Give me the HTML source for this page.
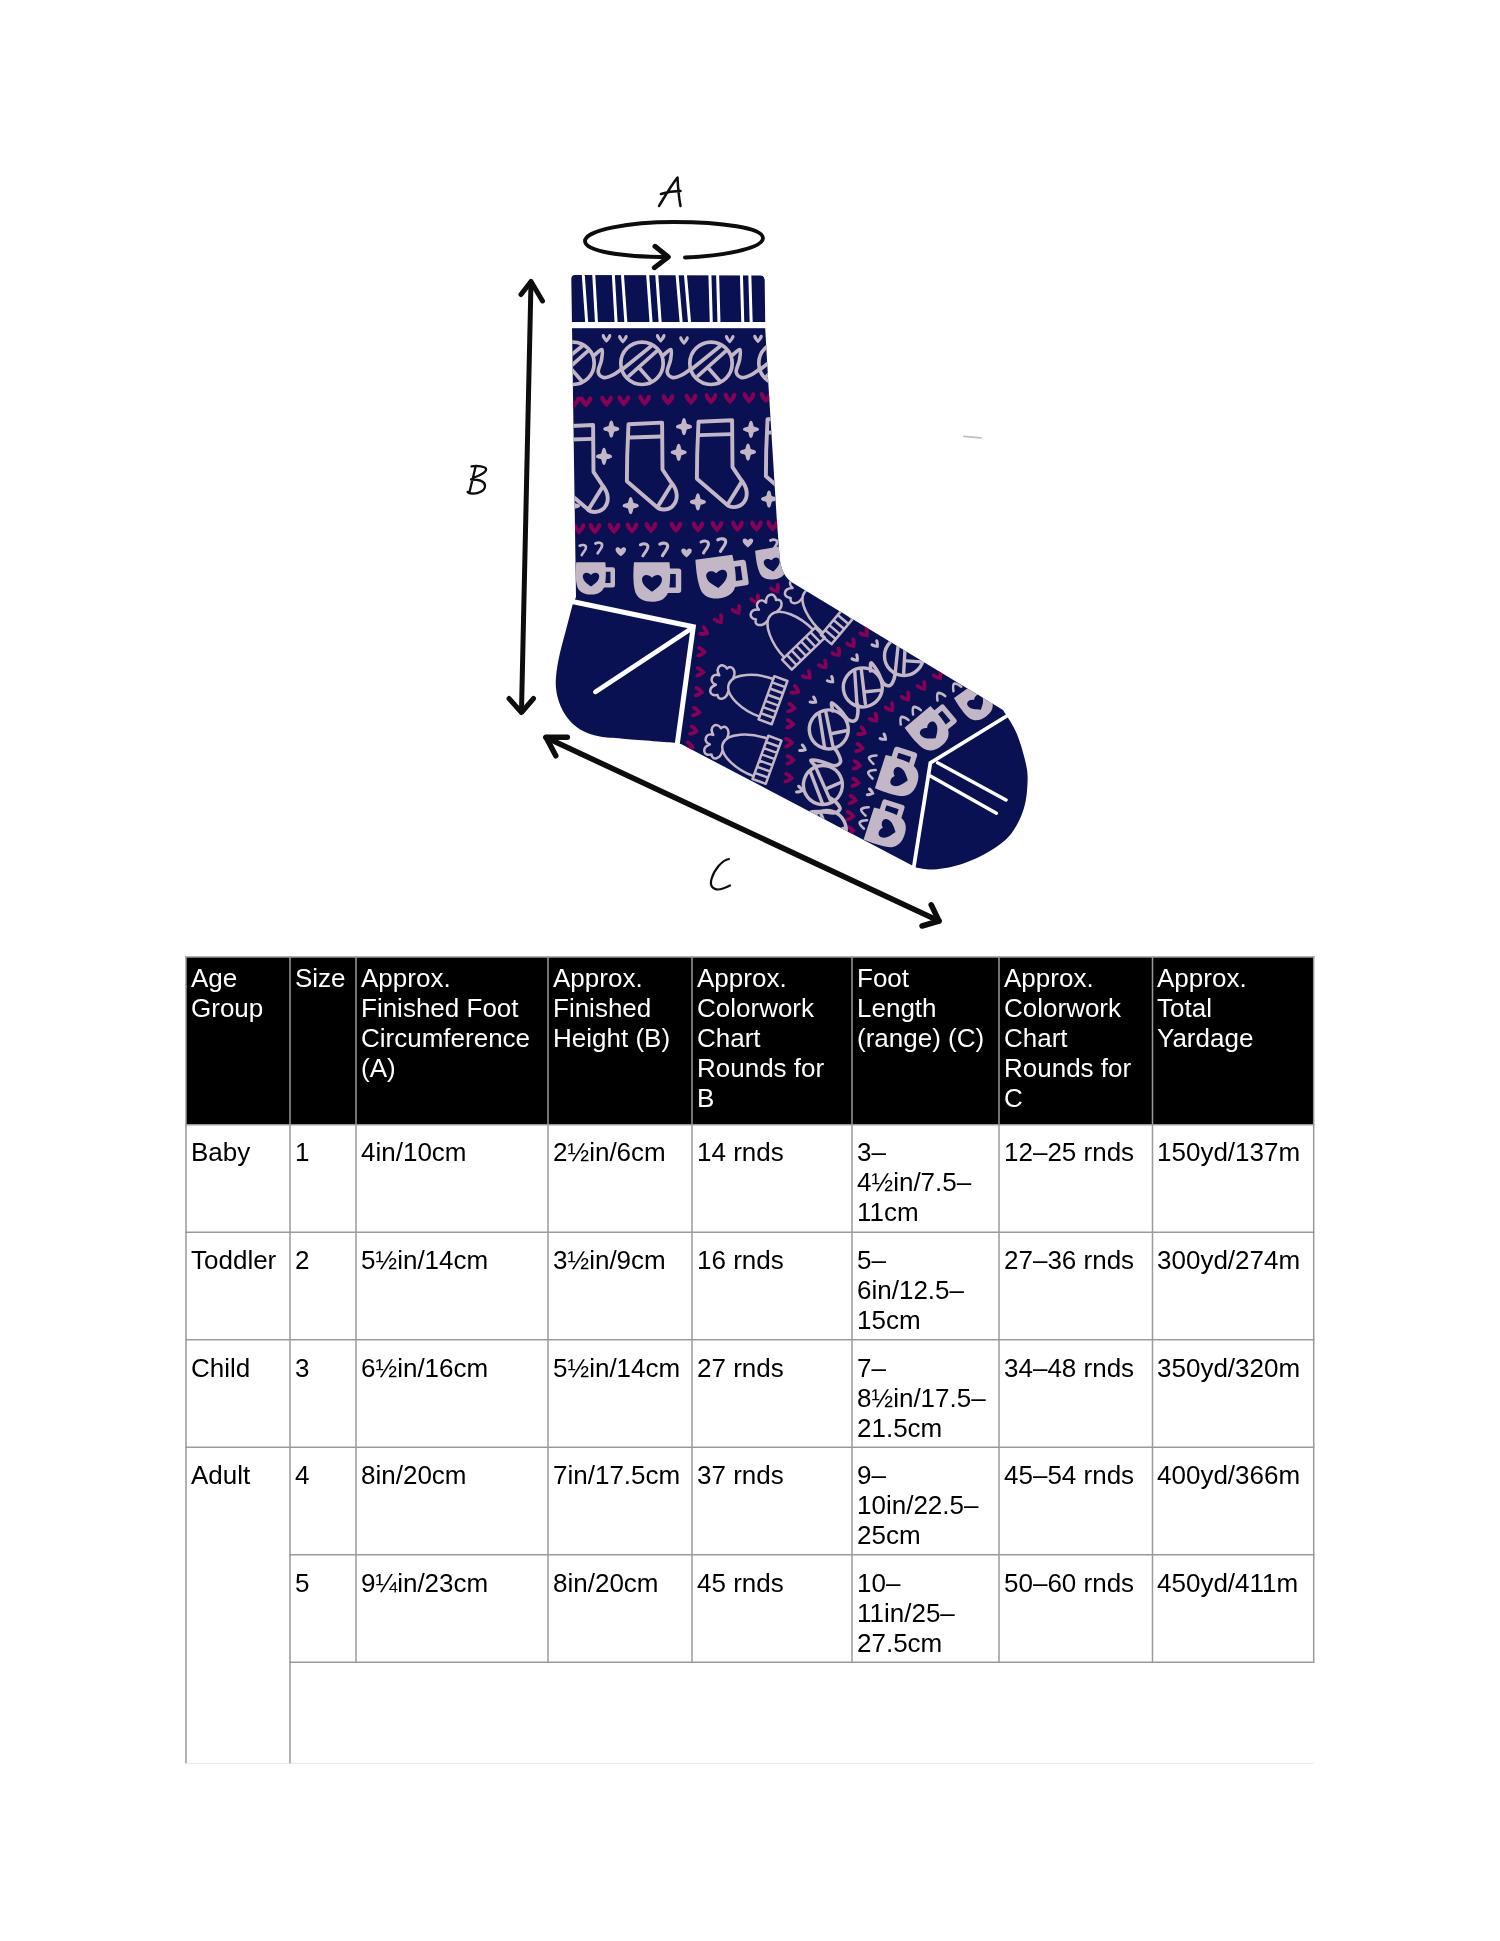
<!DOCTYPE html>
<html><head><meta charset="utf-8">
<style>
html,body{margin:0;padding:0;background:#fff;}
body{width:1500px;height:1941px;position:relative;overflow:hidden;font-family:"Liberation Sans",sans-serif;}
.t{position:absolute;will-change:transform;font-size:26px;line-height:30px;white-space:nowrap;}
svg{position:absolute;left:0;top:0;}
</style></head><body>
<svg width="1500" height="1941" viewBox="0 0 1500 1941">
<rect x="186" y="957" width="1127.1000000000001" height="167.10000000000014" fill="#000"/>
<line x1="185.25" y1="957" x2="1314.45" y2="957" stroke="#9a9a9a" stroke-width="1.5"/>
<line x1="185.25" y1="1124.7" x2="1314.45" y2="1124.7" stroke="#9a9a9a" stroke-width="1.5"/>
<line x1="185.25" y1="1232.3" x2="1314.45" y2="1232.3" stroke="#9a9a9a" stroke-width="1.5"/>
<line x1="185.25" y1="1339.8" x2="1314.45" y2="1339.8" stroke="#9a9a9a" stroke-width="1.5"/>
<line x1="185.25" y1="1447.3" x2="1314.45" y2="1447.3" stroke="#9a9a9a" stroke-width="1.5"/>
<line x1="289.25" y1="1554.8" x2="1314.45" y2="1554.8" stroke="#9a9a9a" stroke-width="1.5"/>
<line x1="289.25" y1="1662.3" x2="1314.45" y2="1662.3" stroke="#9a9a9a" stroke-width="1.5"/>
<line x1="186" y1="1763.3" x2="1313.7" y2="1763.3" stroke="#e6e6e6" stroke-width="1"/>
<line x1="186" y1="956.25" x2="186" y2="1763.3" stroke="#9a9a9a" stroke-width="1.5"/>
<line x1="290" y1="956.25" x2="290" y2="1763.3" stroke="#9a9a9a" stroke-width="1.5"/>
<line x1="356" y1="956.25" x2="356" y2="1662.3" stroke="#9a9a9a" stroke-width="1.5"/>
<line x1="548" y1="956.25" x2="548" y2="1662.3" stroke="#9a9a9a" stroke-width="1.5"/>
<line x1="692" y1="956.25" x2="692" y2="1662.3" stroke="#9a9a9a" stroke-width="1.5"/>
<line x1="852" y1="956.25" x2="852" y2="1662.3" stroke="#9a9a9a" stroke-width="1.5"/>
<line x1="999" y1="956.25" x2="999" y2="1662.3" stroke="#9a9a9a" stroke-width="1.5"/>
<line x1="1152.5" y1="956.25" x2="1152.5" y2="1662.3" stroke="#9a9a9a" stroke-width="1.5"/>
<line x1="1313.7" y1="956.25" x2="1313.7" y2="1662.3" stroke="#9a9a9a" stroke-width="1.5"/>
<defs><clipPath id="sockclip"><path d="M571.3,279 Q571.3,275 575,275 L760.5,275.5 Q764.5,275.8 764.7,280 L765.3,330.0 768.5,386.0 772.6,452.0 776.7,518.0 779.5,556.0 Q781,576 793,583 L1003,710 C1005.2,713.7 1012.3,723.7 1016.0,732.0 C1019.7,740.3 1023.1,752.0 1025.0,760.0 C1026.9,768.0 1027.8,772.0 1027.6,780.0 C1027.4,788.0 1026.8,799.0 1024.0,808.0 C1021.2,817.0 1016.7,826.8 1011.0,834.0 C1005.3,841.2 998.2,846.0 990.0,851.0 C981.8,856.0 971.3,860.9 962.0,864.0 C952.7,867.1 941.7,868.9 934.0,869.5 C926.3,870.1 919.0,867.8 916.0,867.5 L681,744 L674,742.7 C665.5,742.0 635.3,739.7 623.0,738.7 C610.7,737.7 606.7,737.8 600.0,736.5 C593.3,735.2 588.0,733.6 583.0,731.0 C578.0,728.4 573.7,725.0 570.0,721.0 C566.3,717.0 563.2,711.8 561.0,707.0 C558.8,702.2 557.3,697.0 556.5,692.0 C555.7,687.0 555.5,683.2 556.0,677.0 C556.5,670.8 557.8,662.8 559.5,655.0 C561.2,647.2 563.8,638.3 566.0,630.0 C568.2,621.7 571.4,609.2 572.5,605.0 L576,597 Z"/></clipPath>
<path id="hl" d="M0,5.5 C-3.5,3 -6.8,0 -6.6,-3 C-6.4,-6 -2.6,-6.8 0,-3.2 C2.6,-6.8 6.4,-6 6.6,-3 C6.8,0 3.5,3 0,5.5 Z"/>
<path id="hm" d="M0,6 C-3.5,3 -7,-1.5 -6.6,-4.2 C-6.2,-6.6 -3.2,-6.6 -2.4,-4.4 L0,0.2 L2.4,-4.4 C3.2,-6.6 6.2,-6.6 6.6,-4.2 C7,-1.5 3.5,3 0,6 Z"/>
<g id="ball" fill="none" stroke="#c3b7c5" stroke-width="3.7" stroke-linecap="round"><circle r="21.2"/><path d="M-19.5,6 L9,-17 M-13,12.5 L15,-12.5 M-2,5.5 L9,18"/></g>
<path id="spark" fill="#c3b7c5" d="M-8,0 C-8,-1.9 -4.5,-2.1 -2.8,-2.9 C-2.1,-4.5 -1.9,-8.6 0,-8.6 C1.9,-8.6 2.1,-4.5 2.8,-2.9 C4.5,-2.1 8,-1.9 8,0 C8,1.9 4.5,2.1 2.8,2.9 C2.1,4.5 1.9,8.6 0,8.6 C-1.9,8.6 -2.1,4.5 -2.8,2.9 C-4.5,2.1 -8,1.9 -8,0 Z"/>
<g id="mug"><path fill="#c3b7c5" d="M-18,-19.5 L17.5,-19.5 C18.5,-8 18.5,4 16,11 C13,18 7,20 0,20 C-8,20 -14,17 -16.5,11 C-19,4 -19,-8 -18,-19.5 Z"/><path fill="none" stroke="#c3b7c5" stroke-width="5.5" stroke-linejoin="round" d="M15,-10.5 L26.5,-10.5 L26.5,8.5 L14,8.5"/><path fill="#091152" d="M0,10 C-5,6.5 -10,3 -10,-2.5 C-10,-7 -4,-8.5 0,-4 C4,-8.5 10,-7 10,-2.5 C10,3 5,6.5 0,10 Z"/></g>
<g id="smotif" fill="none" stroke="#c3b7c5" stroke-width="3.9" stroke-linejoin="round" stroke-linecap="round"><path d="M8.5,8 L42.1,6.4 L42.5,53.3 L50.7,65.6 C58,74 59,84 52,90.5 C47,94.5 40,94 36.8,90.7 L6.9,65 L7.2,40 Z"/><path d="M9.6,21.3 L41.6,20.3 M51.5,68.3 L37.3,91.2"/></g>
<g id="hat" fill="none" stroke="#c3b7c5" stroke-width="2.5" stroke-linejoin="round" stroke-linecap="round"><path d="M-20,10 C-20,-8 -12,-30 0,-30 C12,-30 20,-8 20,10"/><path d="M-23,10 L23,10 L23,24 L-23,24 Z M-16.4,10 L-16.4,24 M-9.9,10 L-9.9,24 M-3.3,10 L-3.3,24 M3.3,10 L3.3,24 M9.9,10 L9.9,24 M16.4,10 L16.4,24"/><path d="M-7,-28 C-15,-27 -20,-34 -14,-37 C-19,-44 -11,-49 -5,-42 C-5,-50 5,-50 5,-42 C11,-49 19,-44 14,-37 C20,-34 15,-27 7,-28"/></g>
<path id="steam" fill="none" stroke="#c3b7c5" stroke-width="3" stroke-linecap="round" d="M-4,-5 C-1,-6.5 3.5,-6.5 3.5,-3 C3.5,0 0,3 -1.5,6"/>
<path id="caret" fill="none" stroke="#c3b7c5" stroke-width="2.8" stroke-linecap="round" stroke-linejoin="round" d="M-5,3 C-3,-2 -1,-4 0,-4 C2,-3 4,0 5,3"/>
</defs>
<path d="M571.3,279 Q571.3,275 575,275 L760.5,275.5 Q764.5,275.8 764.7,280 L765.3,330.0 768.5,386.0 772.6,452.0 776.7,518.0 779.5,556.0 Q781,576 793,583 L1003,710 C1005.2,713.7 1012.3,723.7 1016.0,732.0 C1019.7,740.3 1023.1,752.0 1025.0,760.0 C1026.9,768.0 1027.8,772.0 1027.6,780.0 C1027.4,788.0 1026.8,799.0 1024.0,808.0 C1021.2,817.0 1016.7,826.8 1011.0,834.0 C1005.3,841.2 998.2,846.0 990.0,851.0 C981.8,856.0 971.3,860.9 962.0,864.0 C952.7,867.1 941.7,868.9 934.0,869.5 C926.3,870.1 919.0,867.8 916.0,867.5 L681,744 L674,742.7 C665.5,742.0 635.3,739.7 623.0,738.7 C610.7,737.7 606.7,737.8 600.0,736.5 C593.3,735.2 588.0,733.6 583.0,731.0 C578.0,728.4 573.7,725.0 570.0,721.0 C566.3,717.0 563.2,711.8 561.0,707.0 C558.8,702.2 557.3,697.0 556.5,692.0 C555.7,687.0 555.5,683.2 556.0,677.0 C556.5,670.8 557.8,662.8 559.5,655.0 C561.2,647.2 563.8,638.3 566.0,630.0 C568.2,621.7 571.4,609.2 572.5,605.0 L576,597 Z" fill="#091152"/>
<g clip-path="url(#sockclip)">
<use href="#hm" transform="translate(606.5,338.4) scale(0.72)" fill="#c3b7c5"/>
<use href="#hm" transform="translate(622.9,339.3) scale(0.72)" fill="#c3b7c5"/>
<use href="#hm" transform="translate(660.7,338.4) scale(0.72)" fill="#c3b7c5"/>
<use href="#hm" transform="translate(684.0,340.7) scale(0.72)" fill="#c3b7c5"/>
<use href="#hm" transform="translate(729.7,339.3) scale(0.72)" fill="#c3b7c5"/>
<use href="#hm" transform="translate(758.0,339.0) scale(0.72)" fill="#c3b7c5"/>
<use href="#ball" transform="translate(573.0,363.3)"/>
<use href="#ball" transform="translate(642.0,363.3)"/>
<use href="#ball" transform="translate(711.0,363.3)"/>
<use href="#ball" transform="translate(780.0,363.3)"/>
<path fill="none" stroke="#c3b7c5" stroke-width="3.7" stroke-linecap="round" d="M594.5,355.2 C595.7,354.2 600.7,348.7 601.9,349.5 C603.1,350.3 602.1,356.2 601.5,360.0 C600.9,363.8 597.8,369.1 598.2,372.0 C598.6,374.9 601.3,377.1 603.8,377.6 C606.3,378.1 610.2,376.2 613.1,374.8 C616.0,373.4 619.7,370.4 621.0,369.5"/>
<path fill="none" stroke="#c3b7c5" stroke-width="3.7" stroke-linecap="round" d="M663.5,355.2 C664.7,354.2 669.7,348.7 670.9,349.5 C672.1,350.3 671.1,356.2 670.5,360.0 C669.9,363.8 666.8,369.1 667.2,372.0 C667.6,374.9 670.3,377.1 672.8,377.6 C675.3,378.1 679.2,376.2 682.1,374.8 C685.0,373.4 688.7,370.4 690.0,369.5"/>
<path fill="none" stroke="#c3b7c5" stroke-width="3.7" stroke-linecap="round" d="M732.5,355.2 C733.7,354.2 738.7,348.7 739.9,349.5 C741.1,350.3 740.1,356.2 739.5,360.0 C738.9,363.8 735.8,369.1 736.2,372.0 C736.6,374.9 739.3,377.1 741.8,377.6 C744.3,378.1 748.2,376.2 751.1,374.8 C754.0,373.4 757.7,370.4 759.0,369.5"/>
<use href="#hm" transform="translate(574.0,402.2) scale(0.95)" fill="#880056"/>
<use href="#hm" transform="translate(586.0,401.9) scale(0.95)" fill="#880056"/>
<use href="#hm" transform="translate(606.6,401.4) scale(0.95)" fill="#880056"/>
<use href="#hm" transform="translate(623.8,401.0) scale(0.95)" fill="#880056"/>
<use href="#hm" transform="translate(644.6,400.5) scale(0.95)" fill="#880056"/>
<use href="#hm" transform="translate(668.0,399.9) scale(0.95)" fill="#880056"/>
<use href="#hm" transform="translate(691.0,399.4) scale(0.95)" fill="#880056"/>
<use href="#hm" transform="translate(711.0,398.9) scale(0.95)" fill="#880056"/>
<use href="#hm" transform="translate(730.0,398.5) scale(0.95)" fill="#880056"/>
<use href="#hm" transform="translate(749.0,398.0) scale(0.95)" fill="#880056"/>
<use href="#hm" transform="translate(766.0,397.6) scale(0.95)" fill="#880056"/>
<use href="#smotif" transform="translate(551.0,418.6)"/>
<use href="#smotif" transform="translate(620.0,416.2)"/>
<use href="#smotif" transform="translate(690.0,413.8)"/>
<use href="#smotif" transform="translate(759.0,411.3)"/>
<use href="#spark" transform="translate(611.3,429.0)"/>
<use href="#spark" transform="translate(604.0,456.4)"/>
<use href="#spark" transform="translate(630.7,505.7)"/>
<use href="#spark" transform="translate(684.0,426.7)"/>
<use href="#spark" transform="translate(678.7,452.3)"/>
<use href="#spark" transform="translate(697.9,501.9)"/>
<use href="#spark" transform="translate(751.0,429.3)"/>
<use href="#spark" transform="translate(748.0,452.0)"/>
<use href="#spark" transform="translate(769.0,499.0)"/>
<use href="#spark" transform="translate(572.0,506.0)"/>
<use href="#hm" transform="translate(579.0,529.0) scale(0.95)" fill="#880056"/>
<use href="#hm" transform="translate(595.0,528.7) scale(0.95)" fill="#880056"/>
<use href="#hm" transform="translate(614.0,528.4) scale(0.95)" fill="#880056"/>
<use href="#hm" transform="translate(632.0,528.2) scale(0.95)" fill="#880056"/>
<use href="#hm" transform="translate(651.0,527.8) scale(0.95)" fill="#880056"/>
<use href="#hm" transform="translate(676.0,527.4) scale(0.95)" fill="#880056"/>
<use href="#hm" transform="translate(698.0,527.1) scale(0.95)" fill="#880056"/>
<use href="#hm" transform="translate(717.0,526.8) scale(0.95)" fill="#880056"/>
<use href="#hm" transform="translate(737.5,526.5) scale(0.95)" fill="#880056"/>
<use href="#hm" transform="translate(756.5,526.2) scale(0.95)" fill="#880056"/>
<use href="#hm" transform="translate(772.7,525.9) scale(0.95)" fill="#880056"/>
<use href="#steam" transform="translate(583.0,550.0) scale(0.85)"/>
<use href="#steam" transform="translate(599.0,548.0) scale(0.9)"/>
<use href="#steam" transform="translate(644.4,549.8)"/>
<use href="#steam" transform="translate(664.0,549.4) scale(1.05)"/>
<use href="#steam" transform="translate(705.0,547.0)"/>
<use href="#steam" transform="translate(722.0,545.0) scale(1.05)"/>
<use href="#steam" transform="translate(774.0,545.0) scale(0.9)"/>
<use href="#hl" transform="translate(620.8,551.8) scale(0.8)" fill="#c3b7c5"/>
<use href="#hl" transform="translate(686.5,553.0) scale(0.8)" fill="#c3b7c5"/>
<use href="#hl" transform="translate(747.9,543.0) scale(0.8)" fill="#c3b7c5"/>
<use href="#mug" transform="translate(591.0,578.2) scale(0.82)"/>
<use href="#mug" transform="translate(652.0,581.8)"/>
<use href="#mug" transform="translate(717.0,577.5) rotate(-8.0) scale(1.05)"/>
<use href="#mug" transform="translate(772.0,563.5) rotate(-10.0) scale(0.8)"/>
<use href="#hm" transform="translate(796.0,578.0) rotate(-29.5) scale(0.85)" fill="#880056"/>
<use href="#hm" transform="translate(776.0,589.3) rotate(-28.8) scale(0.85)" fill="#880056"/>
<use href="#hm" transform="translate(756.0,600.0) rotate(-28.9) scale(0.85)" fill="#880056"/>
<use href="#hm" transform="translate(737.3,610.7) rotate(-28.7) scale(0.85)" fill="#880056"/>
<use href="#hm" transform="translate(719.5,620.0) rotate(-33.2) scale(0.85)" fill="#880056"/>
<use href="#hm" transform="translate(704.7,632.0) rotate(-61.3) scale(0.85)" fill="#880056"/>
<use href="#hm" transform="translate(702.0,652.0) rotate(-84.3) scale(0.85)" fill="#880056"/>
<use href="#hm" transform="translate(700.7,672.0) rotate(-86.1) scale(0.85)" fill="#880056"/>
<use href="#hm" transform="translate(699.3,692.0) rotate(-84.3) scale(0.85)" fill="#880056"/>
<use href="#hm" transform="translate(696.7,712.0) rotate(-82.2) scale(0.85)" fill="#880056"/>
<use href="#hm" transform="translate(694.0,730.7) rotate(-79.1) scale(0.85)" fill="#880056"/>
<use href="#hm" transform="translate(690.0,746.7) rotate(-76.0) scale(0.85)" fill="#880056"/>
<use href="#hm" transform="translate(880.0,622.0) rotate(-37.5) scale(0.85)" fill="#880056"/>
<use href="#hm" transform="translate(865.3,633.3) rotate(-38.2) scale(0.85)" fill="#880056"/>
<use href="#hm" transform="translate(852.0,644.0) rotate(-35.5) scale(0.85)" fill="#880056"/>
<use href="#hm" transform="translate(837.3,653.3) rotate(-37.3) scale(0.85)" fill="#880056"/>
<use href="#hm" transform="translate(824.0,665.3) rotate(-37.8) scale(0.85)" fill="#880056"/>
<use href="#hm" transform="translate(808.0,676.0) rotate(-42.2) scale(0.85)" fill="#880056"/>
<use href="#hm" transform="translate(796.0,690.7) rotate(-63.4) scale(0.85)" fill="#880056"/>
<use href="#hm" transform="translate(792.0,708.0) rotate(-81.0) scale(0.85)" fill="#880056"/>
<use href="#hm" transform="translate(790.7,724.0) rotate(-85.6) scale(0.85)" fill="#880056"/>
<use href="#hm" transform="translate(789.3,742.7) rotate(-90.0) scale(0.85)" fill="#880056"/>
<use href="#hm" transform="translate(790.7,760.0) rotate(-89.5) scale(0.85)" fill="#880056"/>
<use href="#hm" transform="translate(789.0,778.0) rotate(-84.6) scale(0.85)" fill="#880056"/>
<use href="#hm" transform="translate(954.0,666.0) rotate(-33.2) scale(0.85)" fill="#880056"/>
<use href="#hm" transform="translate(938.7,676.0) rotate(-33.5) scale(0.85)" fill="#880056"/>
<use href="#hm" transform="translate(922.7,686.7) rotate(-33.6) scale(0.85)" fill="#880056"/>
<use href="#hm" transform="translate(906.7,697.3) rotate(-33.6) scale(0.85)" fill="#880056"/>
<use href="#hm" transform="translate(890.7,708.0) rotate(-33.8) scale(0.85)" fill="#880056"/>
<use href="#hm" transform="translate(874.7,718.7) rotate(-40.6) scale(0.85)" fill="#880056"/>
<use href="#hm" transform="translate(862.7,732.0) rotate(-63.4) scale(0.85)" fill="#880056"/>
<use href="#hm" transform="translate(860.0,748.0) rotate(-80.8) scale(0.85)" fill="#880056"/>
<use href="#hm" transform="translate(857.3,765.3) rotate(-83.4) scale(0.85)" fill="#880056"/>
<use href="#hm" transform="translate(856.0,782.7) rotate(-83.4) scale(0.85)" fill="#880056"/>
<use href="#hm" transform="translate(853.3,800.0) rotate(-81.0) scale(0.85)" fill="#880056"/>
<use href="#hm" transform="translate(850.7,816.0) rotate(-85.2) scale(0.85)" fill="#880056"/>
<use href="#hm" transform="translate(850.7,830.7) rotate(-90.0) scale(0.85)" fill="#880056"/>
<use href="#hat" transform="translate(841.0,622.0) rotate(-50.0) translate(0,-17)"/>
<use href="#hat" transform="translate(803.5,648.6) rotate(-44.0) translate(0,-17)"/>
<use href="#hat" transform="translate(773.0,700.2) rotate(-70.0) translate(0,-17)"/>
<use href="#hat" transform="translate(767.0,759.8) rotate(-70.0) translate(0,-17)"/>
<use href="#ball" transform="translate(826.7,830.0) rotate(-70.0) scale(0.92)"/>
<use href="#ball" transform="translate(822.9,785.0) rotate(-72.0) scale(0.92)"/>
<use href="#ball" transform="translate(828.8,729.4) rotate(-60.0) scale(0.92)"/>
<use href="#ball" transform="translate(862.8,687.4) rotate(-55.0) scale(0.92)"/>
<use href="#ball" transform="translate(904.0,656.0) rotate(-45.0) scale(0.92)"/>
<path fill="none" stroke="#c3b7c5" stroke-width="3.6" stroke-linecap="round" d="M817.0,816.7 C816.0,816.0 809.9,813.2 810.7,812.4 C811.4,811.5 817.7,811.6 821.7,811.7 C825.6,811.8 831.4,813.3 834.4,812.8 C837.5,812.3 839.6,810.3 840.0,808.6 C840.3,807.0 838.1,804.6 836.5,802.8 C835.0,801.1 831.5,798.9 830.5,798.1"/>
<path fill="none" stroke="#c3b7c5" stroke-width="3.6" stroke-linecap="round" d="M816.3,766.8 C815.4,765.7 810.0,761.0 811.0,760.2 C811.9,759.3 818.0,760.8 821.9,761.7 C825.8,762.6 831.0,765.6 834.1,765.7 C837.2,765.7 839.8,763.7 840.5,761.8 C841.2,759.8 839.5,756.4 838.3,754.0 C837.2,751.5 834.3,748.2 833.5,747.0"/>
<path fill="none" stroke="#c3b7c5" stroke-width="3.6" stroke-linecap="round" d="M832.8,711.0 C832.6,709.6 830.6,702.9 831.8,702.7 C833.0,702.5 837.4,707.0 840.2,709.9 C842.9,712.7 845.7,718.1 848.3,719.8 C850.9,721.5 854.0,721.3 855.6,720.1 C857.3,718.9 857.6,715.2 857.9,712.6 C858.3,710.0 857.6,705.7 857.5,704.3"/>
<path fill="none" stroke="#c3b7c5" stroke-width="3.6" stroke-linecap="round" d="M870.5,670.9 C870.6,669.5 870.1,662.6 871.3,662.7 C872.5,662.9 875.7,668.3 877.7,671.7 C879.7,675.1 881.3,680.9 883.4,683.2 C885.5,685.5 888.5,686.1 890.3,685.3 C892.1,684.6 893.2,681.2 894.1,678.8 C894.9,676.3 895.2,672.1 895.4,670.7"/>
<use href="#mug" transform="translate(929.6,730.9) rotate(-40.0) scale(0.95)"/>
<use href="#mug" transform="translate(898.5,777.3) rotate(-72.0) scale(0.98)"/>
<use href="#mug" transform="translate(886.5,829.0) rotate(-72.0) scale(0.95)"/>
<use href="#mug" transform="translate(976.0,702.7) rotate(-35.0) scale(0.85)"/>
<use href="#caret" transform="translate(915.6,710.0) rotate(-30.0) scale(0.9)"/>
<use href="#caret" transform="translate(903.3,720.0) rotate(-30.0) scale(0.9)"/>
<use href="#caret" transform="translate(872.4,758.7) rotate(-70.0) scale(0.9)"/>
<use href="#caret" transform="translate(871.6,773.4) rotate(-70.0) scale(0.9)"/>
<use href="#caret" transform="translate(864.6,810.5) rotate(-70.0) scale(0.9)"/>
<use href="#caret" transform="translate(863.0,823.6) rotate(-70.0) scale(0.9)"/>
<use href="#caret" transform="translate(956.0,686.7) rotate(-30.0) scale(0.9)"/>
<use href="#caret" transform="translate(940.0,696.0) rotate(-30.0) scale(0.9)"/>
<use href="#hm" transform="translate(884.0,737.9) rotate(-50.0) scale(0.68)" fill="#c3b7c5"/>
<use href="#hm" transform="translate(870.8,792.7) rotate(-70.0) scale(0.68)" fill="#c3b7c5"/>
<use href="#hm" transform="translate(800.0,790.0) rotate(-70.0) scale(0.68)" fill="#c3b7c5"/>
<use href="#hm" transform="translate(876.0,644.7) rotate(-40.0) scale(0.68)" fill="#c3b7c5"/>
<use href="#hm" transform="translate(856.0,658.7) rotate(-40.0) scale(0.68)" fill="#c3b7c5"/>
<use href="#hm" transform="translate(831.3,680.4) rotate(-45.0) scale(0.68)" fill="#c3b7c5"/>
<use href="#hm" transform="translate(814.0,701.0) rotate(-55.0) scale(0.68)" fill="#c3b7c5"/>
<use href="#hm" transform="translate(803.3,748.8) rotate(-65.0) scale(0.68)" fill="#c3b7c5"/>
</g>
<rect x="565" y="322" width="215" height="6.2" fill="#ffffff"/>
<line x1="583.2" y1="274" x2="586.7" y2="323" stroke="#ffffff" stroke-width="3"/>
<line x1="593.7" y1="274" x2="596.5" y2="323" stroke="#ffffff" stroke-width="3"/>
<line x1="613.3" y1="274" x2="616.1" y2="323" stroke="#ffffff" stroke-width="3"/>
<line x1="622.4" y1="274" x2="625.9" y2="323" stroke="#ffffff" stroke-width="3"/>
<line x1="647.6" y1="274" x2="651.1" y2="323" stroke="#ffffff" stroke-width="3"/>
<line x1="656.7" y1="274" x2="660.2" y2="323" stroke="#ffffff" stroke-width="3"/>
<line x1="677.0" y1="274" x2="681.2" y2="323" stroke="#ffffff" stroke-width="3"/>
<line x1="685.4" y1="274" x2="689.6" y2="323" stroke="#ffffff" stroke-width="3"/>
<line x1="709.9" y1="274" x2="711.3" y2="323" stroke="#ffffff" stroke-width="3"/>
<line x1="717.6" y1="274" x2="719.0" y2="323" stroke="#ffffff" stroke-width="3"/>
<line x1="741.4" y1="274" x2="742.8" y2="323" stroke="#ffffff" stroke-width="3"/>
<line x1="749.8" y1="274" x2="751.2" y2="323" stroke="#ffffff" stroke-width="3"/>
<path d="M560,599 L693.3,626.7 L677,746" fill="none" stroke="#ffffff" stroke-width="5" stroke-linejoin="miter"/>
<line x1="595.3" y1="692" x2="693" y2="627.5" stroke="#ffffff" stroke-width="4.5" stroke-linecap="round"/>
<path d="M1010,714 L930.4,762.8 L913,872" fill="none" stroke="#ffffff" stroke-width="3.8"/>
<line x1="937.6" y1="762.8" x2="1006" y2="800" stroke="#ffffff" stroke-width="3.5" stroke-linecap="round"/>
<line x1="930.4" y1="776" x2="996.4" y2="813.2" stroke="#ffffff" stroke-width="3.5" stroke-linecap="round"/>
<path d="M668,257 C620,257 585,251 585,241 C585,230 630,222 674,222 C722,222 763,228 763,238 C763,249 720,256 685,257.5" fill="none" stroke="#0d0d0d" stroke-width="3.9" stroke-linecap="round"/>
<path d="M655,246.3 L668.3,257 L654.3,267.7" fill="none" stroke="#0d0d0d" stroke-width="5" stroke-linecap="round" stroke-linejoin="round"/>
<path d="M659,206 C664,198 670,187 677.5,177.5 C678,188 679,198 680.5,206 M661,194 C667,192 674,191 680.5,191" fill="none" stroke="#0d0d0d" stroke-width="2.5" stroke-linecap="round" stroke-linejoin="round"/>
<path d="M531,282 C528,420 524,560 521.5,711" fill="none" stroke="#0d0d0d" stroke-width="5" stroke-linecap="round"/>
<path d="M521,294.5 L531,281.5 L542.5,301 M509,698.5 L521.5,712.5 L533.5,698.5" fill="none" stroke="#0d0d0d" stroke-width="5" stroke-linecap="round" stroke-linejoin="round"/>
<path d="M471.5,466.3 C477,465.5 486,466 486.2,469.5 C486,472 480,475.5 474.2,477.5 M475.5,467 L469.4,492.5 M471,479.5 C478,479.5 485,481 485,486 C485,491 478,494 472,493.5 C470,493.5 468,492.5 467.6,492" fill="none" stroke="#0d0d0d" stroke-width="2.3" stroke-linecap="round" stroke-linejoin="round"/>
<path d="M546,737.5 L939,921" fill="none" stroke="#0d0d0d" stroke-width="5.5" stroke-linecap="round"/>
<path d="M567.3,737.2 L546,737.3 L555.8,755.8 M922,926 L939,921 L931.2,904.8" fill="none" stroke="#0d0d0d" stroke-width="5.5" stroke-linecap="round" stroke-linejoin="round"/>
<path d="M729,859 C722,860 714,870 711.5,879 C709.5,886 713,889.5 718,889.5 C722,889.5 726,887.5 730,885.5" fill="none" stroke="#0d0d0d" stroke-width="2.2" stroke-linecap="round"/>
<path d="M964,436.3 L981,437.8" stroke="#c4bcc4" stroke-width="1.8" stroke-linecap="round"/>
</svg>
<div class="t" style="left:190.50px;top:962.90px;color:#fff">Age<br>Group</div>
<div class="t" style="left:294.50px;top:962.90px;color:#fff">Size</div>
<div class="t" style="left:360.50px;top:962.90px;color:#fff">Approx.<br>Finished Foot<br>Circumference<br>(A)</div>
<div class="t" style="left:552.50px;top:962.90px;color:#fff">Approx.<br>Finished<br>Height (B)</div>
<div class="t" style="left:696.50px;top:962.90px;color:#fff">Approx.<br>Colorwork<br>Chart<br>Rounds for<br>B</div>
<div class="t" style="left:856.50px;top:962.90px;color:#fff">Foot<br>Length<br>(range) (C)</div>
<div class="t" style="left:1003.50px;top:962.90px;color:#fff">Approx.<br>Colorwork<br>Chart<br>Rounds for<br>C</div>
<div class="t" style="left:1157.00px;top:962.90px;color:#fff">Approx.<br>Total<br>Yardage</div>
<div class="t" style="left:190.50px;top:1137.40px;color:#000">Baby</div>
<div class="t" style="left:294.50px;top:1137.40px;color:#000">1</div>
<div class="t" style="left:360.50px;top:1137.40px;color:#000">4in/10cm</div>
<div class="t" style="left:552.50px;top:1137.40px;color:#000">2½in/6cm</div>
<div class="t" style="left:696.50px;top:1137.40px;color:#000">14 rnds</div>
<div class="t" style="left:856.50px;top:1137.40px;color:#000">3–<br>4½in/7.5–<br>11cm</div>
<div class="t" style="left:1003.50px;top:1137.40px;color:#000">12–25 rnds</div>
<div class="t" style="left:1157.00px;top:1137.40px;color:#000">150yd/137m</div>
<div class="t" style="left:190.50px;top:1245.00px;color:#000">Toddler</div>
<div class="t" style="left:294.50px;top:1245.00px;color:#000">2</div>
<div class="t" style="left:360.50px;top:1245.00px;color:#000">5½in/14cm</div>
<div class="t" style="left:552.50px;top:1245.00px;color:#000">3½in/9cm</div>
<div class="t" style="left:696.50px;top:1245.00px;color:#000">16 rnds</div>
<div class="t" style="left:856.50px;top:1245.00px;color:#000">5–<br>6in/12.5–<br>15cm</div>
<div class="t" style="left:1003.50px;top:1245.00px;color:#000">27–36 rnds</div>
<div class="t" style="left:1157.00px;top:1245.00px;color:#000">300yd/274m</div>
<div class="t" style="left:190.50px;top:1352.50px;color:#000">Child</div>
<div class="t" style="left:294.50px;top:1352.50px;color:#000">3</div>
<div class="t" style="left:360.50px;top:1352.50px;color:#000">6½in/16cm</div>
<div class="t" style="left:552.50px;top:1352.50px;color:#000">5½in/14cm</div>
<div class="t" style="left:696.50px;top:1352.50px;color:#000">27 rnds</div>
<div class="t" style="left:856.50px;top:1352.50px;color:#000">7–<br>8½in/17.5–<br>21.5cm</div>
<div class="t" style="left:1003.50px;top:1352.50px;color:#000">34–48 rnds</div>
<div class="t" style="left:1157.00px;top:1352.50px;color:#000">350yd/320m</div>
<div class="t" style="left:190.50px;top:1460.00px;color:#000">Adult</div>
<div class="t" style="left:294.50px;top:1460.00px;color:#000">4</div>
<div class="t" style="left:360.50px;top:1460.00px;color:#000">8in/20cm</div>
<div class="t" style="left:552.50px;top:1460.00px;color:#000">7in/17.5cm</div>
<div class="t" style="left:696.50px;top:1460.00px;color:#000">37 rnds</div>
<div class="t" style="left:856.50px;top:1460.00px;color:#000">9–<br>10in/22.5–<br>25cm</div>
<div class="t" style="left:1003.50px;top:1460.00px;color:#000">45–54 rnds</div>
<div class="t" style="left:1157.00px;top:1460.00px;color:#000">400yd/366m</div>
<div class="t" style="left:294.50px;top:1567.50px;color:#000">5</div>
<div class="t" style="left:360.50px;top:1567.50px;color:#000">9¼in/23cm</div>
<div class="t" style="left:552.50px;top:1567.50px;color:#000">8in/20cm</div>
<div class="t" style="left:696.50px;top:1567.50px;color:#000">45 rnds</div>
<div class="t" style="left:856.50px;top:1567.50px;color:#000">10–<br>11in/25–<br>27.5cm</div>
<div class="t" style="left:1003.50px;top:1567.50px;color:#000">50–60 rnds</div>
<div class="t" style="left:1157.00px;top:1567.50px;color:#000">450yd/411m</div>

</body></html>
